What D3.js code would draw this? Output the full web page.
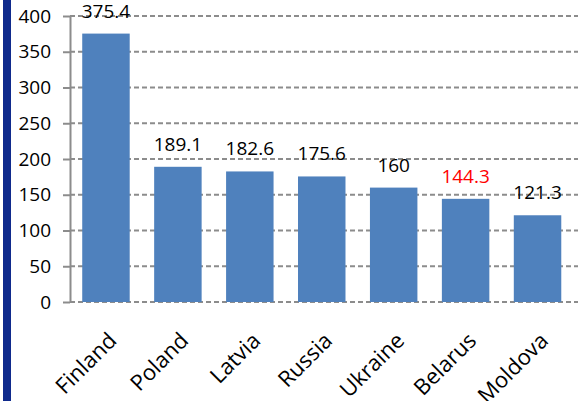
<!DOCTYPE html>
<html>
<head>
<meta charset="utf-8">
<script src="https://cdn.jsdelivr.net/npm/d3@7/dist/d3.min.js"></script>
<style>
  html, body { margin: 0; padding: 0; background: #fff; }
  svg { display: block; }
  text { font-family: "Open Sans", "DejaVu Sans", sans-serif; }
</style>
</head>
<body>
<svg id="chart" width="578" height="401"></svg>
<script>
// Countries and their values
const countries = ["Finland", "Poland", "Latvia", "Russia", "Ukraine", "Belarus", "Moldova"];
const values = [375.4, 189.1, 182.6, 175.6, 160, 144.3, 121.3];
const highlighted = ["Belarus"];
const yTicks = [0, 50, 100, 150, 200, 250, 300, 350, 400];

const W = 578, H = 401;
const svg = d3.select("#chart");

// Dark accent strip down the left edge
svg.append("rect")
  .attr("x", 3).attr("y", 0)
  .attr("width", 8).attr("height", H)
  .attr("fill", "#0f2a8c");

const plot = { left: 70, right: 573.5, top: 16, bottom: 302 };

const x = d3.scaleBand()
  .domain(countries)
  .range([plot.left, plot.right])
  .paddingInner(0.34)
  .paddingOuter(0.17);

const y = d3.scaleLinear()
  .domain([0, 400])
  .range([plot.bottom, plot.top]);

// Dashed horizontal gridlines
svg.append("g")
  .selectAll("line")
  .data(yTicks)
  .join("line")
  .attr("x1", plot.left).attr("x2", W)
  .attr("y1", d => y(d)).attr("y2", d => y(d))
  .attr("stroke", "#8c8c8c")
  .attr("stroke-width", 2)
  .attr("stroke-dasharray", "5,3");

// Bars
svg.append("g")
  .selectAll("rect")
  .data(countries)
  .join("rect")
  .attr("x", d => x(d))
  .attr("width", x.bandwidth())
  .attr("y", (d, i) => y(values[i]))
  .attr("height", (d, i) => y(0) - y(values[i]))
  .attr("fill", "#4f81bd");

// Y axis
const yAxis = svg.append("g")
  .attr("transform", `translate(${plot.left},0)`)
  .call(d3.axisLeft(y).tickValues(yTicks).tickSize(7).tickPadding(12).tickSizeOuter(0));
yAxis.select(".domain").attr("stroke", "#8c8c8c").attr("stroke-width", 2);
yAxis.selectAll(".tick line").attr("stroke", "#8c8c8c").attr("stroke-width", 2);
yAxis.selectAll(".tick text")
  .attr("font-size", 19)
  .attr("fill", "#000")
  .style("font-family", '"Open Sans", sans-serif');

// Value labels
svg.append("g")
  .selectAll("text")
  .data(countries)
  .join("text")
  .attr("x", d => x(d) + x.bandwidth() / 2)
  .attr("y", (d, i) => y(values[i]) - 16)
  .attr("text-anchor", "middle")
  .attr("font-size", 19)
  .attr("fill", d => highlighted.includes(d) ? "#ff0000" : "#000")
  .text((d, i) => values[i]);

// Rotated category labels
const xAxis = svg.append("g")
  .attr("transform", `translate(0,${plot.bottom})`)
  .call(d3.axisBottom(x).tickSize(0).tickPadding(0));
xAxis.select(".domain").remove();
xAxis.selectAll(".tick text")
  .attr("font-size", 22)
  .attr("fill", "#000")
  .style("font-family", '"Open Sans", sans-serif')
  .attr("text-anchor", "end")
  .attr("dy", 0)
  .attr("transform", "translate(12,40) rotate(-45)");
</script>
</body>
</html>
